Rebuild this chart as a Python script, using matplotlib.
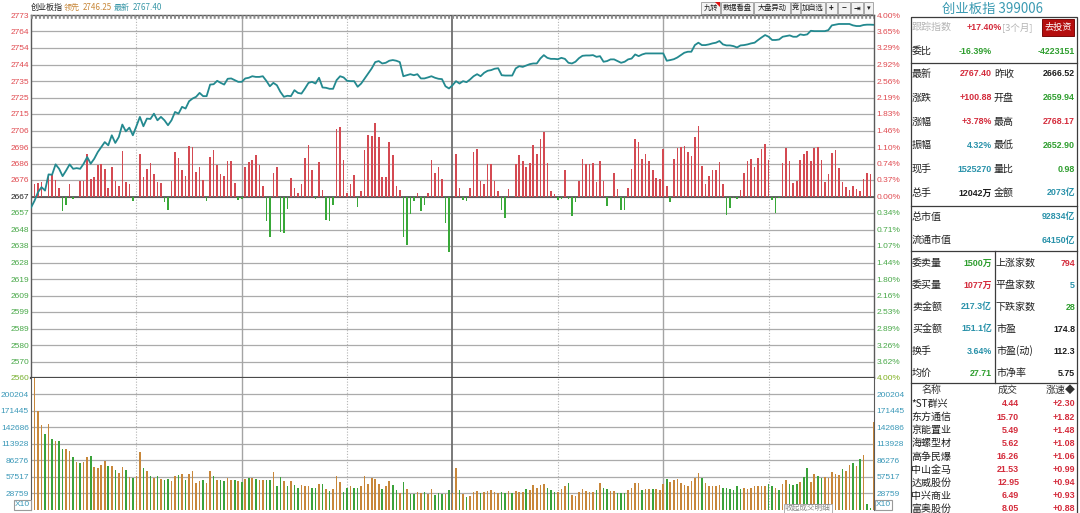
import matplotlib
matplotlib.use('Agg')
import matplotlib.pyplot as plt
from matplotlib.patches import Rectangle, Polygon
import numpy as np

plt.rcParams['font.family'] = ['Noto Sans CJK SC', 'DejaVu Sans']

# ------------------------------------------------------------------ data
prev_close = 2666.52

price = [
    2660.0, 2664.0, 2669.1, 2672.0, 2670.0, 2679.5, 2679.3, 2685.4, 2682.8, 2678.5,
    2681.8, 2685.4, 2682.8, 2683.2, 2682.8, 2685.8, 2689.7, 2685.8, 2688.7, 2692.6,
    2695.6, 2698.5, 2696.6, 2702.5, 2698.0, 2701.5, 2708.8, 2704.8, 2707.0, 2702.5,
    2707.8, 2713.3, 2707.8, 2712.3, 2712.1, 2715.2, 2711.3, 2713.3, 2711.3, 2708.4,
    2711.3, 2716.2, 2715.2, 2719.2, 2718.2, 2722.5, 2724.1, 2725.1, 2727.4, 2725.5,
    2725.5, 2732.3, 2732.5, 2734.5, 2733.3, 2732.3, 2735.7, 2735.9, 2734.9, 2733.9,
    2733.9, 2735.9, 2736.3, 2737.2, 2736.8, 2736.8, 2737.2, 2734.5, 2731.3, 2733.3,
    2731.9, 2728.0, 2725.1, 2725.7, 2725.5, 2729.0, 2727.4, 2727.0, 2730.0, 2733.3,
    2733.9, 2732.9, 2736.3, 2730.6, 2730.4, 2729.8, 2729.8, 2734.9, 2737.2, 2736.5,
    2734.5, 2734.3, 2734.3, 2731.0, 2732.9, 2735.9, 2738.8, 2741.8, 2745.5, 2746.1,
    2744.7, 2745.1, 2746.3, 2746.7, 2746.3, 2745.5, 2737.2, 2737.8, 2738.4, 2737.8,
    2738.4, 2735.9, 2735.9, 2736.5, 2737.2, 2736.3, 2735.7, 2735.5, 2731.3, 2730.0,
    2731.9, 2734.3, 2732.9, 2734.3, 2733.7, 2735.3, 2737.2, 2738.4, 2737.2, 2739.2,
    2740.4, 2740.8, 2741.6, 2741.9, 2737.8, 2737.6, 2737.6, 2737.6, 2741.8, 2743.1,
    2742.7, 2743.5, 2744.3, 2744.7, 2744.7, 2747.6, 2749.6, 2748.0, 2747.4, 2747.4,
    2747.2, 2748.0, 2747.4, 2745.1, 2744.7, 2745.7, 2747.8, 2749.2, 2749.4, 2749.4,
    2749.6, 2748.6, 2749.0, 2745.7, 2746.1, 2747.1, 2747.1, 2746.1, 2745.1, 2745.7,
    2747.1, 2747.6, 2750.0, 2749.0, 2750.0, 2750.6, 2750.6, 2750.6, 2750.6, 2750.6,
    2750.6, 2746.3, 2746.7, 2747.2, 2748.2, 2749.6, 2751.0, 2751.6, 2751.6, 2755.5,
    2756.9, 2755.5, 2755.5, 2755.9, 2756.5, 2756.9, 2757.9, 2755.9, 2755.3, 2755.3,
    2754.9, 2754.1, 2755.3, 2755.5, 2755.9, 2756.5, 2756.9, 2758.5, 2760.0, 2761.4,
    2760.4, 2758.5, 2758.5, 2758.8, 2760.4, 2760.8, 2761.2, 2760.4, 2760.4, 2761.8,
    2761.4, 2761.8, 2763.9, 2763.7, 2763.7, 2763.7, 2763.7, 2764.3, 2767.1, 2767.5,
    2767.9, 2767.9, 2767.9, 2767.9, 2767.1, 2766.7, 2766.7, 2767.3, 2767.5, 2767.5,
    2767.4,
]

volume = [
    82700, 235000, 172200, 147400, 131800, 150300, 122500, 119100, 120200, 106400,
    106400, 101700, 92500, 82700, 80900, 82700, 92500, 94200, 74000, 73400,
    78600, 85500, 75700, 76900, 69900, 64700, 75100, 69400, 57200, 54900,
    59000, 101200, 72300, 66500, 59000, 54900, 59000, 52600, 50900, 53200,
    49700, 59000, 60700, 62400, 50900, 62400, 66500, 45700, 49700, 50900,
    46200, 66500, 59000, 52000, 50900, 49700, 55500, 50900, 52000, 49700,
    48000, 53200, 54300, 55500, 53200, 50900, 50900, 52000, 52000, 65300,
    41000, 56600, 49100, 41000, 49700, 42200, 38100, 42200, 41000, 41000,
    37600, 37600, 45100, 45100, 35300, 32400, 35300, 59000, 47400, 30600,
    38100, 41000, 38100, 38100, 40500, 59000, 43900, 54300, 52600, 45100,
    35300, 41000, 49100, 43400, 34700, 29500, 47400, 35300, 26600, 26600,
    30600, 28900, 30600, 26600, 35300, 25400, 29500, 26600, 26600, 33500,
    28900, 72300, 34700, 26600, 22000, 23100, 31200, 31800, 28900, 30100,
    31800, 34700, 30100, 28900, 31200, 29500, 32400, 28900, 31800, 31200,
    30600, 35300, 34700, 43400, 37600, 43400, 44500, 38100, 33500, 30100,
    31200, 35800, 41600, 46800, 26000, 24300, 31200, 35300, 31800, 31200,
    31200, 33500, 46800, 37600, 35300, 31800, 32400, 28300, 28300, 28300,
    33500, 37600, 46200, 46200, 34700, 35300, 35300, 35300, 35300, 34700,
    43900, 53200, 48000, 50900, 52600, 46200, 42800, 40500, 49100, 54900,
    63000, 55500, 46800, 40500, 40500, 40500, 43400, 37600, 38100, 35800,
    33500, 41000, 35300, 37600, 35300, 38100, 40500, 41000, 41600, 41600,
    43900, 40500, 38100, 34700, 45100, 50900, 45100, 43400, 43900, 47400,
    56600, 72800, 47400, 61800, 59000, 54900, 56100, 54900, 65900, 62400,
    60700, 71700, 67000, 78600, 82100, 76300, 88400, 95400, 9200, 2900,
    153200,
]

# o = up minute (orange), g = down minute (green), b = opening auction
vol_dir = "".join([
    "b",
    "ooogogoggo", "ogogoogooo", "ogogoogogo", "ogogogoggo", "ogogoooogo",
    "ogoggoogog", "ogogooggog", "gogoggooog", "gogogooogg", "oggoooooog",
    "ooggogoggo", "ogoogggogo", "ogogooogoo", "oooggogooo", "gooooogggo",
    "oogooooooo", "goggoogggo", "ooogoogooo", "gooooooooo", "gooooogggg",
    "ggooooooog", "gogoogggog", "googgooooo", "googogoggo",
])

red_bars = [
    (1, 7.5), (2, 7.9), (3, 8.4), (5, 13.4), (6, 13.0), (7, 9.8), (8, 5.1), (11, 7.1),
    (14, 9.4), (15, 9.0), (16, 24.7), (17, 10.4), (18, 11.4), (19, 18.5), (20, 18.9),
    (21, 15.9), (22, 5.1), (23, 17.3), (24, 9.0), (25, 6.3), (26, 26.7), (27, 8.6),
    (28, 7.3), (31, 24.7), (32, 11.4), (33, 16.3), (34, 19.4), (35, 13.0), (36, 8.6),
    (37, 7.7), (40, 9.2), (41, 25.9), (42, 22.4), (43, 15.3), (44, 12.0), (45, 29.9),
    (46, 29.1), (47, 14.5), (48, 17.3), (49, 9.6), (51, 23.0), (52, 27.1), (53, 18.5),
    (54, 13.4), (55, 12.2), (56, 20.6), (57, 20.6), (58, 8.1), (61, 17.3), (62, 20.0),
    (63, 21.2), (64, 24.2), (65, 18.5), (66, 5.9), (69, 13.9), (70, 17.3), (74, 10.8),
    (75, 5.1), (76, 2.2), (77, 7.3), (78, 22.8), (79, 30.4), (80, 15.7), (82, 20.4),
    (83, 4.1), (87, 39.5), (88, 40.9), (89, 21.2), (90, 2.0), (91, 7.5), (92, 12.4),
    (94, 3.5), (95, 27.5), (96, 35.9), (97, 35.6), (98, 43.2), (99, 34.8), (100, 11.6),
    (101, 11.4), (102, 31.8), (103, 24.6), (104, 5.9), (105, 4.1), (110, 2.0),
    (113, 2.2), (114, 21.2), (115, 14.1), (116, 17.3), (117, 10.4),
    (121, 24.7), (122, 5.1), (125, 5.1), (126, 26.1), (127, 28.1), (128, 9.4),
    (129, 7.5), (130, 19.2), (131, 19.2), (132, 9.0), (133, 3.1), (136, 4.5),
    (138, 18.9), (139, 24.2), (140, 20.6), (141, 17.3), (142, 19.8), (143, 30.1),
    (144, 25.1), (145, 33.8), (146, 37.9), (147, 19.4), (148, 3.1), (149, 1.2),
    (152, 15.7), (156, 9.4), (157, 22.2), (158, 19.2), (159, 18.9), (160, 19.4),
    (161, 8.8), (162, 21.0), (163, 9.0), (166, 13.6), (167, 4.5), (170, 5.1),
    (171, 16.3), (172, 33.6), (173, 32.0), (174, 22.2), (175, 25.1), (176, 20.8),
    (177, 15.7), (178, 11.0), (179, 10.4), (180, 27.9), (181, 6.1), (183, 22.2),
    (184, 28.7), (185, 29.1), (186, 29.7), (187, 25.9), (188, 23.6), (189, 35.0),
    (190, 41.2), (191, 17.9), (192, 7.1), (193, 11.8), (194, 15.7), (195, 15.3),
    (196, 20.4), (197, 7.1), (202, 3.9), (203, 13.9), (204, 21.0), (205, 22.2),
    (206, 17.3), (207, 22.8), (208, 27.7), (209, 31.0), (210, 21.6), (214, 19.6),
    (215, 28.5), (216, 20.6), (217, 7.9), (218, 9.2), (219, 21.6), (220, 24.9),
    (221, 26.7), (222, 20.6), (223, 28.7), (224, 29.1), (225, 21.6), (226, 8.8),
    (227, 13.4), (228, 25.5), (229, 27.5), (230, 16.9), (231, 8.8), (232, 5.5),
    (233, 3.9), (234, 5.9), (235, 4.5), (236, 3.1), (237, 10.4), (238, 13.6),
    (239, 13.4),
]

green_bars = [
    (9, -8.4), (10, -5.1), (12, -1.4), (29, -2.6), (38, -3.5), (39, -7.7), (50, -2.6),
    (59, -2.2), (60, -1.6), (67, -14.3), (68, -23.8), (71, -20.8), (72, -21.6),
    (73, -7.5), (81, -1.6), (84, -13.7), (85, -14.5), (86, -4.9), (93, -6.1),
    (106, -23.6), (107, -28.7), (108, -10.4), (109, -2.9), (111, -8.8), (112, -5.1),
    (118, -15.7), (119, -32.4), (123, -2.0), (124, -2.9), (134, -7.9), (135, -12.8),
    (150, -2.2), (151, -1.2), (153, -1.6), (154, -11.6), (155, -3.5), (164, -5.5),
    (168, -7.9), (169, -8.2), (182, -3.1), (198, -10.6), (199, -6.5), (200, -1.0),
    (201, -1.6), (211, -2.2), (212, -9.8), (213, -1.0),
]

left_labels = ['2773', '2764', '2754', '2744', '2735', '2725', '2715', '2706', '2696',
               '2686', '2676', '2667', '2657', '2648', '2638', '2628', '2619', '2609',
               '2599', '2589', '2580', '2570', '2560']
right_labels = ['4.00%', '3.65%', '3.29%', '2.92%', '2.56%', '2.19%', '1.83%', '1.46%',
                '1.10%', '0.74%', '0.37%', '0.00%', '0.34%', '0.71%', '1.07%', '1.44%',
                '1.80%', '2.16%', '2.53%', '2.89%', '3.26%', '3.62%', '4.00%']
vol_labels = ['28759', '57517', '86276', '113928', '142686', '171445', '200204']
vol_grid_step = 28759

header_items = [('创业板指', '#202020'), ('领先', '#c8883a'), ('2746.25', '#c8883a'),
                ('最新', '#3a98a8'), ('2767.40', '#3a98a8')]
buttons = ['九转', '数据看盘', '大盘异动', '竞', '加自选', '+', '−', '⇥', '▾']

RED, GREEN, TEAL, BLACK, GRAY = '#d42c3c', '#2f9e2f', '#2a92aa', '#1e1e1e', '#b4b4b4'
quote_rows = [
    ('最新', '2767.40', RED, '昨收', '2666.52', BLACK),
    ('涨跌', '+100.88', RED, '开盘', '2659.94', GREEN),
    ('涨幅', '+3.78%', RED, '最高', '2768.17', RED),
    ('振幅', '4.32%', TEAL, '最低', '2652.90', GREEN),
    ('现手', '1525270', TEAL, '量比', '0.98', GREEN),
    ('总手', '12042万', BLACK, '金额', '2073亿', TEAL),
]
cap_rows = [('总市值', '92834亿', TEAL), ('流通市值', '64150亿', TEAL)]
order_rows = [
    ('委卖量', '1500万', GREEN, '上涨家数', '794', RED),
    ('委买量', '1077万', RED, '平盘家数', '5', TEAL),
    ('卖金额', '217.3亿', TEAL, '下跌家数', '28', GREEN),
    ('买金额', '151.1亿', TEAL, '市盈', '174.8', BLACK),
    ('换手', '3.64%', TEAL, '市盈(动)', '112.3', BLACK),
    ('均价', '27.71', GREEN, '市净率', '5.75', BLACK),
]
stock_names = ['*ST群兴', '东方通信', '京能置业', '海螺型材', '高争民爆', '中山金马',
               '达威股份', '中兴商业', '富奥股份']
stock_prices = ['4.44', '15.70', '5.49', '5.62', '16.26', '21.53', '12.95', '6.49', '8.05']
stock_speed = ['+2.30', '+1.82', '+1.48', '+1.08', '+1.06', '+0.99', '+0.94', '+0.93', '+0.88']

# ------------------------------------------------------------------ figure
W, H = 1080, 513
fig = plt.figure(figsize=(W / 100, H / 100), dpi=100)
fig.patch.set_facecolor('white')


def box(x0, y0, x1, y1):
    return [x0 / W, 1 - y1 / H, (x1 - x0) / W, (y1 - y0) / H]


NUMF = ['Liberation Sans', 'Noto Sans CJK SC', 'DejaVu Sans']
CJK = ['Noto Sans CJK SC', 'DejaVu Sans']
X0, X1 = 31, 874
minutes = np.arange(len(price))


def vlines(a):
    for m in (30, 90, 150, 210):
        a.axvline(m, color='#b4b4b4', lw=0.8, ls=(0, (1, 1.5)), zorder=0)
    for m in (60, 180):
        a.axvline(m, color='#a4a4a4', lw=1.0, zorder=0)
    a.axvline(120, color='#6e6e6e', lw=1.3, zorder=0)


# ---- price pane
ax = fig.add_axes(box(X0, 15, X1, 378))
ylo, yhi = prev_close * 0.96, prev_close * 1.04
ax.set_xlim(0, 240)
ax.set_ylim(ylo, yhi)
levels = np.linspace(yhi, ylo, len(left_labels))
for lv in levels[1:-1]:
    ax.axhline(lv, color='#ababab', lw=0.9, zorder=0)
ax.axhline(prev_close, color='#4a4a4a', lw=1.2, zorder=1)
vlines(ax)

rm = [m for m, v in red_bars]
rv = [v for m, v in red_bars]
gm = [m for m, v in green_bars]
gv = [v for m, v in green_bars]
ax.bar(rm, rv, bottom=prev_close, width=0.45, color='#d44a52', zorder=2)
ax.bar(gm, gv, bottom=prev_close, width=0.45, color='#38a838', zorder=2)
ax.plot(minutes, price, color='#23898f', lw=1.3, zorder=3)

ax.set_xticks([])
ax.set_yticks(levels)
ax.set_yticklabels(left_labels)
ax.tick_params(axis='y', length=0, pad=1.5, labelsize=6)
for i, t in enumerate(ax.get_yticklabels()):
    t.set_fontfamily(NUMF)
    if i < 11:
        t.set_color('#e04a50')
    elif i == 11:
        t.set_color('#202020')
    elif i < len(left_labels) - 1:
        t.set_color('#48a848')
    else:
        t.set_color('#78b030')
for s in ('left', 'right'):
    ax.spines[s].set_color('#5a5a5a')
    ax.spines[s].set_linewidth(1.0)
ax.spines['top'].set_visible(False)
ax.spines['bottom'].set_color('#4a4a4a')
ax.spines['bottom'].set_linewidth(1.6)

axr = ax.twinx()
axr.set_ylim(ylo, yhi)
axr.set_yticks(levels)
axr.set_yticklabels(right_labels)
axr.tick_params(axis='y', length=0, pad=2, labelsize=6)
for i, t in enumerate(axr.get_yticklabels()):
    t.set_fontfamily(NUMF)
    if i <= 11:
        t.set_color('#e04a50')
    elif i < len(right_labels) - 1:
        t.set_color('#48a848')
    else:
        t.set_color('#80b020')
for s in axr.spines.values():
    s.set_visible(False)

# ---- volume pane
axv = fig.add_axes(box(X0, 378, X1, 509.5))
axv.set_xlim(0, 240)
axv.set_ylim(0, vol_grid_step * 8)
vticks = [vol_grid_step * (k + 1) for k in range(len(vol_labels))]
for v in vticks:
    axv.axhline(v, color='#ababab', lw=0.9, zorder=0)
vlines(axv)
cmap = {'o': '#c8873a', 'g': '#3aa23a', 'b': '#1f78c8'}
axv.bar(np.arange(len(volume)), volume, width=0.45,
        color=[cmap[c] for c in vol_dir], zorder=2)
axv.set_xticks([])
axv.set_yticks(vticks)
axv.set_yticklabels(vol_labels)
axv.tick_params(axis='y', length=0, pad=1.5, labelsize=6, labelcolor='#3a98b8')
for t in axv.get_yticklabels():
    t.set_fontfamily(NUMF)
for s in ('left', 'right'):
    axv.spines[s].set_color('#5a5a5a')
axv.spines['top'].set_visible(False)
axv.spines['bottom'].set_visible(False)
axvr = axv.twinx()
axvr.set_ylim(0, vol_grid_step * 8)
axvr.set_yticks(vticks)
axvr.set_yticklabels(vol_labels)
axvr.tick_params(axis='y', length=0, pad=2, labelsize=6, labelcolor='#3a98b8')
for t in axvr.get_yticklabels():
    t.set_fontfamily(NUMF)
for s in axvr.spines.values():
    s.set_visible(False)

# ---- overlay in pixel coordinates
axo = fig.add_axes([0, 0, 1, 1])
axo.set_xlim(0, W)
axo.set_ylim(H, 0)
axo.axis('off')

# top frame band
axo.plot([X0, X1], [14.6, 14.6], color='#5a5a5a', lw=1.0)
axo.plot([X0, X1], [17.2, 17.2], color='#8c8c8c', lw=2.6, ls=(0, (0.55, 0.55)))

# X10 boxes
for xx, ha in ((30, 'right'), (876, 'left')):
    axo.text(xx, 505, 'X10', ha=ha, va='center', fontsize=6, color='#3a98b8',
             family=NUMF,
             bbox=dict(boxstyle='square,pad=0.15', fc='white', ec='#9a9a9a', lw=0.8))

# header texts
hx = [31, 64, 83, 114, 133]
for (txt, col), x in zip(header_items, hx):
    axo.text(x, 7.5, txt, ha='left', va='center', fontsize=5.8, color=col, family=CJK)

# buttons
bx = [(701, 720), (721, 753), (754, 790), (791, 800), (801, 825), (826, 837),
      (838, 850), (851, 863), (864, 873)]
for lab_, (x0, x1) in zip(buttons, bx):
    axo.add_patch(Rectangle((x0, 1.5), x1 - x0, 12.5, fc='#f3f3f3', ec='#a8a8a8', lw=0.7))
    bold = lab_ in ('+', '−', '⇥')
    axo.text((x0 + x1) / 2, 8, lab_, ha='center', va='center',
             fontsize=5.8 if bold else 5.2,
             color='#1e1e1e', weight='bold' if bold else 'normal', family=CJK)
axo.add_patch(Polygon([(715, 1.5), (720, 1.5), (720, 6.5)], closed=True, fc='#e01010', ec='none'))

# bottom label (cut by the window edge in the original)
axo.text(785, 508.5, '收起成交明细', ha='left', va='center', fontsize=5.5, color='#888888',
         bbox=dict(boxstyle='square,pad=0.1', fc='white', ec='#b0b0b0', lw=0.7))

# ---- right panel
axo.add_patch(Rectangle((905, 0), 175, H, fc='white', ec='none', zorder=3))
axo.text(992, 8.5, '创业板指 399006', ha='center', va='center', fontsize=9.6,
         color='#3a9ab2', zorder=4)
PL, PR = 910.5, 1077
axo.add_patch(Rectangle((PL, 16.5), PR - PL, H, fc='none', ec='#3c3c3c', lw=0.9, zorder=4))
for yy in (63, 206, 251, 383):
    axo.plot([PL, PR], [yy, yy], color='#3c3c3c', lw=0.9, zorder=4)
axo.plot([994.5, 994.5], [251, 383], color='#3c3c3c', lw=0.9, zorder=4)

LF = 7.2
NF = 6.4


def lab(x, y, s, c=BLACK, ha='left', fs=LF):
    axo.text(x, y, s, ha=ha, va='center', fontsize=fs, color=c, zorder=5, family=CJK)


def num(x, y, s, c, ha='right'):
    axo.text(x, y, s, ha=ha, va='center', fontsize=NF, color=c, weight='bold',
             family=NUMF, zorder=5)


lab(912, 27, '跟踪指数', GRAY)
num(1002, 27, '+17.40%', RED)
lab(1002, 27, '[3个月]', GRAY, fs=6.8)
axo.add_patch(Rectangle((1042, 19), 32, 17, fc='#b40e0e', ec='#7a0a0a', lw=0.7, zorder=5))
lab(1058, 27.5, '去投资', 'white', ha='center', fs=6.6)

lab(912, 51, '委比')
num(992, 51, '-16.39%', GREEN)
num(1075, 51, '-4223151', GREEN)

for k, (l1, v1, c1, l2, v2, c2) in enumerate(quote_rows):
    y = 74 + k * 23.8
    lab(912, y, l1)
    num(992, y, v1, c1)
    lab(994, y, l2)
    num(1075, y, v2, c2)

for k, (l1, v1, c1) in enumerate(cap_rows):
    y = 217 + k * 23
    lab(912, y, l1)
    num(1075, y, v1, c1)

for k, (l1, v1, c1, l2, v2, c2) in enumerate(order_rows):
    y = 263 + k * 22
    lab(912, y, l1)
    num(992, y, v1, c1)
    lab(996, y, l2)
    num(1075, y, v2, c2)

lab(932, 390, '名称', '#333333', ha='center')
lab(1008, 390, '成交', '#333333', ha='center')
lab(1076, 390, '涨速◆', '#333333', ha='right')
for k, (n, p, s) in enumerate(zip(stock_names, stock_prices, stock_speed)):
    y = 404 + k * 13.1
    lab(911.5, y, n)
    num(1019, y, p, RED)
    num(1075, y, s, RED)

fig.savefig('out.png', dpi=100, facecolor='white')
